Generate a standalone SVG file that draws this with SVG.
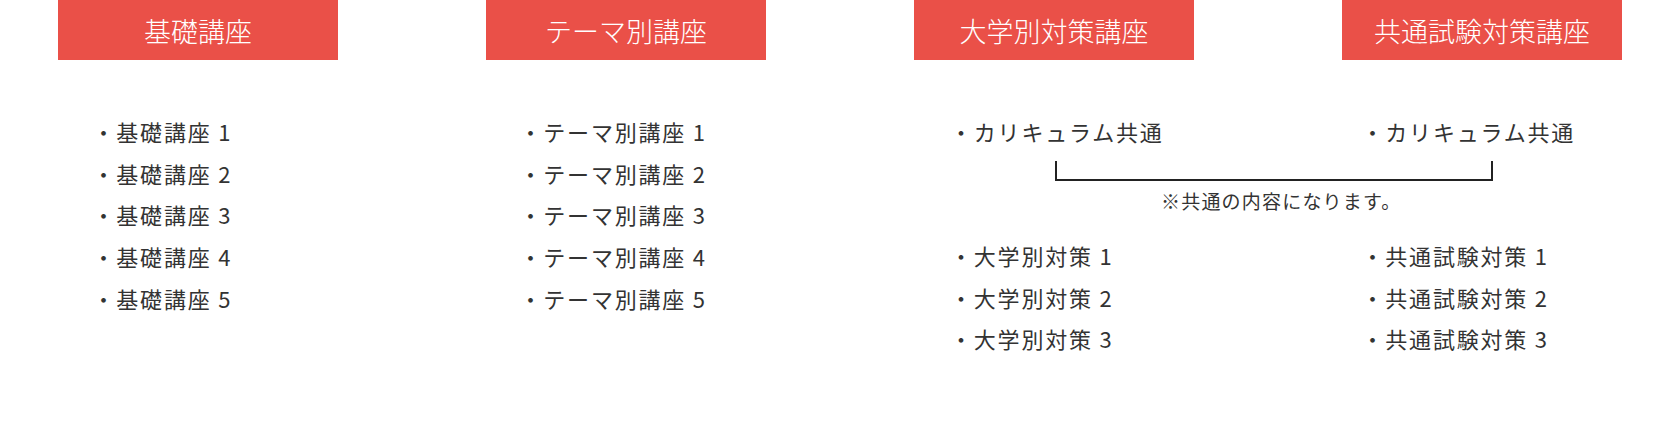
<svg xmlns="http://www.w3.org/2000/svg" width="1680" height="436" viewBox="0 0 1680 436">
<style>
.hd{fill:#EA5048}
.ht{font-family:"Noto Sans CJK JP","Noto Sans",sans-serif;font-size:27px;fill:#ffffff;text-anchor:middle;font-weight:300}
.it{font-family:"Noto Sans CJK JP","Noto Sans",sans-serif;font-size:22px;fill:#333333;letter-spacing:1.8px}
.nt{font-family:"Noto Sans CJK JP","Noto Sans",sans-serif;font-size:19px;fill:#333333;letter-spacing:1.2px}
</style>
<rect width="1680" height="436" fill="#ffffff"/>
<g id="basic">
<rect class="hd" x="58" y="0" width="280" height="60"/>
<text class="ht" x="198" y="42">基礎講座</text>
<text class="it" x="92.5" y="141">・基礎講座 1</text>
<text class="it" x="92.5" y="182.7">・基礎講座 2</text>
<text class="it" x="92.5" y="224.4">・基礎講座 3</text>
<text class="it" x="92.5" y="266">・基礎講座 4</text>
<text class="it" x="92.5" y="307.7">・基礎講座 5</text>
</g>
<g id="theme">
<rect class="hd" x="486" y="0" width="280" height="60"/>
<text class="ht" x="626" y="42">テーマ別講座</text>
<text class="it" x="519.5" y="141">・テーマ別講座 1</text>
<text class="it" x="519.5" y="182.7">・テーマ別講座 2</text>
<text class="it" x="519.5" y="224.4">・テーマ別講座 3</text>
<text class="it" x="519.5" y="266">・テーマ別講座 4</text>
<text class="it" x="519.5" y="307.7">・テーマ別講座 5</text>
</g>
<g id="univ">
<rect class="hd" x="914" y="0" width="280" height="60"/>
<text class="ht" x="1054" y="42">大学別対策講座</text>
<text class="it" x="950" y="141">・カリキュラム共通</text>
<text class="it" x="950" y="265">・大学別対策 1</text>
<text class="it" x="950" y="306.7">・大学別対策 2</text>
<text class="it" x="950" y="348.4">・大学別対策 3</text>
</g>
<g id="common">
<rect class="hd" x="1342" y="0" width="280" height="60"/>
<text class="ht" x="1482" y="42">共通試験対策講座</text>
<text class="it" x="1361.5" y="141">・カリキュラム共通</text>
<text class="it" x="1361.5" y="265">・共通試験対策 1</text>
<text class="it" x="1361.5" y="306.7">・共通試験対策 2</text>
<text class="it" x="1361.5" y="348.4">・共通試験対策 3</text>
</g>
<g id="connectors">
<path d="M1056,161 V180 H1492 V161" fill="none" stroke="#222222" stroke-width="2"/>
<text class="nt" x="1161" y="209">※共通の内容になります。</text>
</g>
</svg>
